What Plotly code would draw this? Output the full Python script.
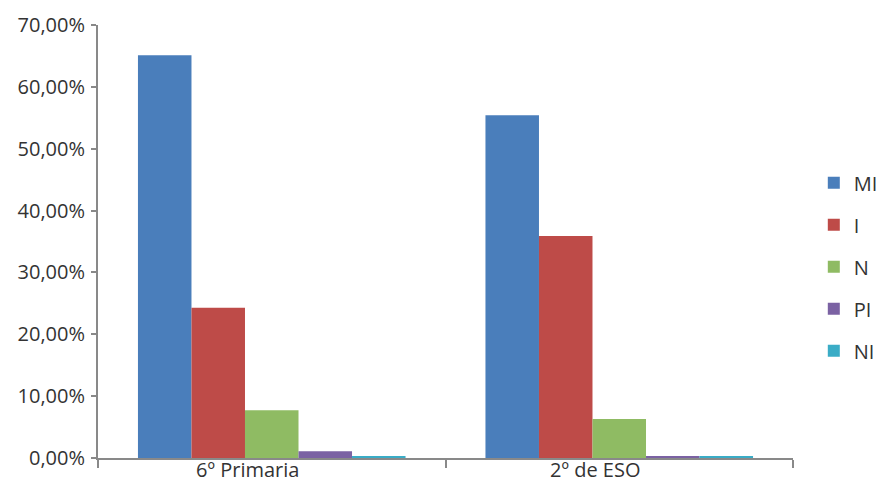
import plotly.graph_objects as go

# Survey groups and response shares (%)
groups = ["6º Primaria", "2º de ESO"]
series_names = ["MI", "I", "N", "PI", "NI"]
mi = [65.1, 55.4]
i_ = [24.3, 35.9]
n = [7.7, 6.3]
pi = [1.1, 0.3]
ni = [0.3, 0.3]
values = [mi, i_, n, pi, ni]
colors = ["#4a7ebb", "#be4b48", "#8fbb63", "#7b62a3", "#3aacc6"]
y_ticks = [0, 10, 20, 30, 40, 50, 60, 70]
y_tick_labels = ["0,00%", "10,00%", "20,00%", "30,00%", "40,00%", "50,00%", "60,00%", "70,00%"]

fig = go.Figure()
for name, vals, col in zip(series_names, values, colors):
    fig.add_trace(go.Bar(
        x=groups, y=vals, name=name, marker=dict(color=col, line=dict(width=0)),
        legendgroup=name,
    ))

font_family = "'Open Sans', Roboto, sans-serif"
fig.update_layout(
    width=876, height=485,
    margin=dict(l=98, r=83, t=25, b=27, autoexpand=False),
    paper_bgcolor="white", plot_bgcolor="white",
    barmode="group", bargap=0.23, bargroupgap=0,
    font=dict(family=font_family, size=20, color="#333333"),
    showlegend=True,
    legend=dict(
        xref="container", yref="container",
        x=0.929, xanchor="left", y=0.45, yanchor="middle",
        font=dict(size=20, color="#333333"),
        tracegroupgap=13, itemwidth=30,
        bgcolor="rgba(0,0,0,0)",
    ),
    xaxis=dict(
        showline=True, linecolor="#898989", linewidth=2,
        ticks="outside", tickson="boundaries", ticklen=8, tickwidth=2,
        tickcolor="#898989", showgrid=False, automargin=False,
        ticklabelstandoff=-7, ticklabelshift=-24,
        tickfont=dict(size=20, color="#333333"),
    ),
    yaxis=dict(
        range=[0, 70], tickvals=y_ticks, ticktext=y_tick_labels,
        showline=True, linecolor="#898989", linewidth=2,
        ticks="outside", ticklen=5, tickwidth=2, tickcolor="#898989",
        showgrid=False, zeroline=False, automargin=False,
        ticklabelstandoff=2,
        tickfont=dict(size=20, color="#333333"),
    ),
)

fig.write_html("out.html")
